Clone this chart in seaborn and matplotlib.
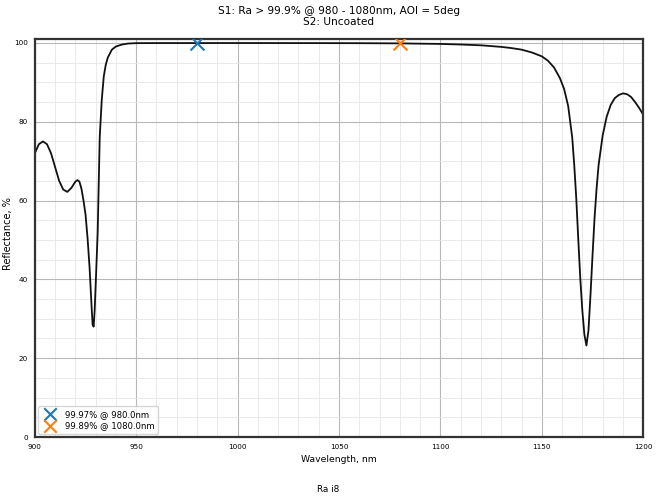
import numpy as np
import pandas as pd
import matplotlib
matplotlib.use("Agg")
import matplotlib.pyplot as plt
from matplotlib.ticker import MultipleLocator
import seaborn as sns

# reflectance curve
wavelength = [900, 902, 904, 906, 908, 910, 912, 914, 916, 918, 920, 921, 922, 923, 924,
              925, 926, 927, 928, 928.5, 929, 929.5, 930, 931, 932, 933, 934, 935, 936,
              938, 940, 943, 946, 950, 960, 970, 980, 990, 1000, 1020, 1040, 1060, 1080,
              1100, 1110, 1120, 1130, 1135, 1140, 1145, 1150, 1153, 1156, 1159, 1161,
              1163, 1165, 1166, 1167, 1168, 1169, 1170, 1171, 1172, 1173, 1174, 1175,
              1176, 1177, 1178, 1180, 1182, 1184, 1186, 1188, 1190, 1192, 1194, 1196,
              1198, 1200]
reflectance = [72.0, 74.3, 75.0, 74.3, 72.0, 68.5, 65.0, 62.8, 62.2, 63.2, 64.8, 65.2, 64.8,
               63.0, 60.0, 56.5, 50.5, 43.0, 33.0, 28.5, 28.0, 32.0, 38.5, 52.0, 76.0, 85.5,
               91.5, 94.5, 96.3, 98.3, 99.1, 99.6, 99.85, 99.95, 99.97, 99.97, 99.97, 99.98,
               99.98, 99.97, 99.96, 99.94, 99.89, 99.75, 99.6, 99.4, 99.0, 98.7, 98.3, 97.6,
               96.6, 95.5, 93.8, 91.0, 88.3, 84.0, 76.0, 69.0, 60.5, 50.0, 40.0, 32.0, 26.0,
               23.2, 27.0, 36.0, 46.0, 55.5, 63.0, 69.0, 76.5, 81.3, 84.3, 86.0, 86.8, 87.2,
               87.0, 86.3, 85.0, 83.5, 81.8]

marker_wl = [980.0, 1080.0]
marker_r = [99.97, 99.89]
marker_labels = ["99.97% @ 980.0nm", "99.89% @ 1080.0nm"]

df = pd.DataFrame({"Wavelength": wavelength, "Reflectance": reflectance})

sns.set_style("white")
plt.rcParams["font.family"] = ["DejaVu Sans"]
plt.rcParams["text.color"] = "black"

fig = plt.figure(figsize=(6.57, 5.0), dpi=100)
ax = fig.add_axes([0.053, 0.126, 0.926, 0.796])

sns.lineplot(data=df, x="Wavelength", y="Reflectance", color="#111111", linewidth=1.3, ax=ax)
colors = ["#1f77b4", "#ff7f0e"]
for w, r, lab, c in zip(marker_wl, marker_r, marker_labels, colors):
    ax.scatter([w], [r], marker="x", s=100, color=c, linewidths=1.5, label=lab, zorder=5)

ax.set_xlim(900, 1200)
ax.set_ylim(0, 101)
ax.xaxis.set_major_locator(MultipleLocator(50))
ax.xaxis.set_minor_locator(MultipleLocator(10))
ax.yaxis.set_major_locator(MultipleLocator(20))
ax.yaxis.set_minor_locator(MultipleLocator(5))
ax.grid(which="major", color="#b8b8b8", linewidth=0.8)
ax.grid(which="minor", color="#e6e6e6", linewidth=0.6)
ax.tick_params(which="both", direction="out", labelsize=5.2, length=3, pad=2,
               color="#444444", labelcolor="black")
ax.tick_params(which="minor", length=2)
for s in ax.spines.values():
    s.set_color("#333333")
    s.set_linewidth(1.6)

ax.set_xlabel("Wavelength, nm", fontsize=6.7, color="black")
ax.set_ylabel("Reflectance, %", fontsize=7.0, color="black")
ax.xaxis.set_label_coords(0.5, -0.045)
ax.yaxis.set_label_coords(-0.036, 0.51)
ax.set_title("S1: Ra > 99.9% @ 980 - 1080nm, AOI = 5deg\nS2: Uncoated", fontsize=7.6,
             pad=10, color="black")
ax.legend(loc="lower left", fontsize=6.1, handletextpad=0.8, borderpad=0.4,
          labelspacing=0.3, borderaxespad=0.4, markerscale=0.9)
fig.text(0.5, 0.02, "Ra i8", ha="center", va="center", fontsize=6.4, color="black")

fig.savefig("out.png", dpi=100)
